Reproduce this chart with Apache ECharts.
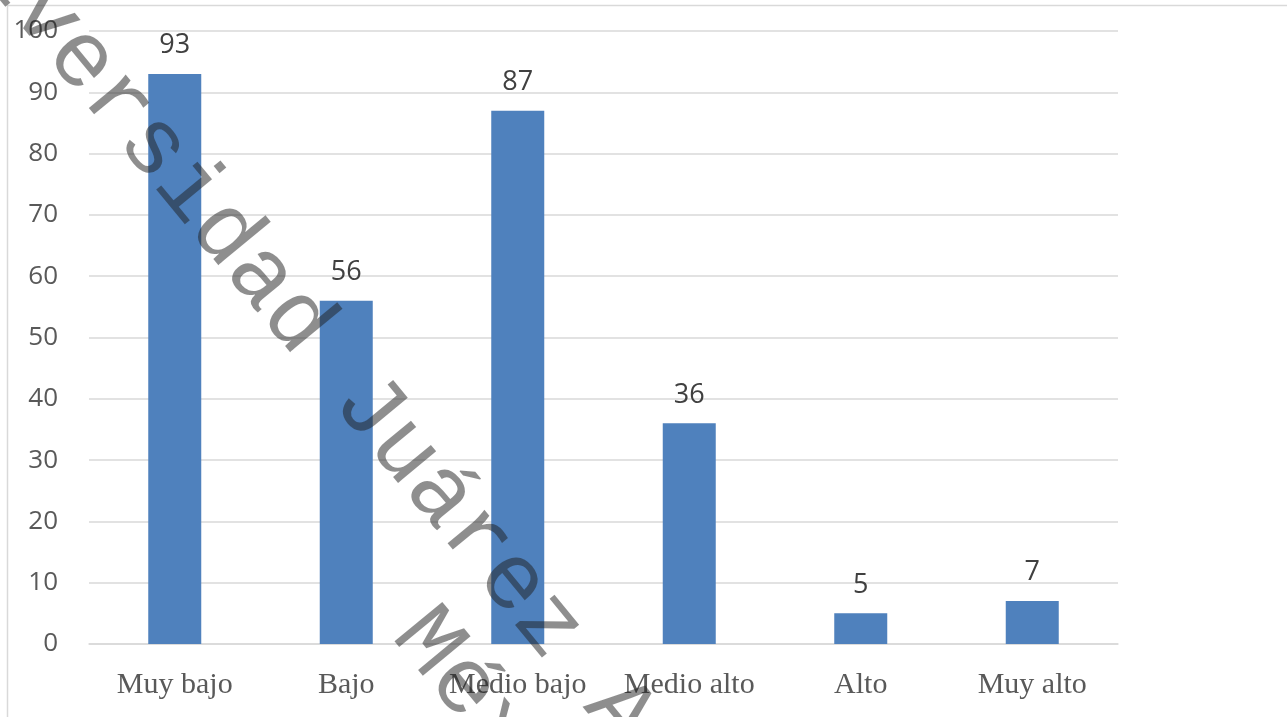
<!DOCTYPE html>
<html>
<head>
<meta charset="utf-8">
<script src="https://cdn.jsdelivr.net/npm/echarts@6/dist/echarts.min.js"></script>
<style>
  html, body { margin: 0; padding: 0; background: #fff; }
  #chart { width: 1287px; height: 717px; }
</style>
</head>
<body>
<div id="chart"></div>
<script>
// datos
var categorias = ['Muy bajo', 'Bajo', 'Medio bajo', 'Medio alto', 'Alto', 'Muy alto']
var valores = [93, 56, 87, 36, 5, 7]
var marcaAgua = ['Universidad Juárez Autónoma de Tabasco', 'México']

var chart = echarts.init(document.getElementById('chart'))
var giro = -50.5 * Math.PI / 180

chart.setOption({
  animation: false,
  grid: {
    left: 89,
    right: 169,
    top: 31,
    bottom: 73
  },
  xAxis: {
    type: 'category',
    data: categorias,
    axisLine: { show: true, lineStyle: { color: '#d9d9d9', width: 1.5 } },
    axisTick: { show: false },
    axisLabel: {
      interval: 0,
      hideOverlap: false,
      margin: 26,
      fontFamily: 'Liberation Serif',
      fontSize: 30,
      color: '#595959'
    }
  },
  yAxis: {
    type: 'value',
    min: 0,
    max: 100,
    interval: 10,
    axisLine: { show: false },
    axisTick: { show: false },
    axisLabel: {
      margin: 31,
      fontFamily: 'Open Sans',
      fontSize: 26,
      color: '#595959'
    },
    splitLine: { lineStyle: { color: '#d9d9d9', width: 1.5 } }
  },
  series: [{
    type: 'bar',
    data: valores,
    barWidth: 53,
    itemStyle: { color: '#4f81bd' },
    label: {
      show: true,
      position: 'top',
      distance: 15,
      fontFamily: 'Open Sans',
      fontSize: 27,
      color: '#404040'
    }
  }],
  graphic: [
    {
      type: 'rect',
      silent: true,
      shape: { x: 7.5, y: 5.5, width: 1300, height: 720 },
      style: { fill: 'none', stroke: '#d9d9d9', lineWidth: 1.5 }
    },
    {
      type: 'text',
      silent: true,
      z: 100,
      x: -80,
      y: -136,
      rotation: giro,
      style: {
        text: marcaAgua[0],
        font: '94px "Liberation Mono"',
        fill: 'rgba(30,30,30,0.5)',
        align: 'left',
        verticalAlign: 'middle'
      }
    },
    {
      type: 'text',
      silent: true,
      z: 100,
      x: 410,
      y: 621,
      rotation: giro,
      style: {
        text: marcaAgua[1],
        font: '94px "Liberation Mono"',
        fill: 'rgba(30,30,30,0.5)',
        align: 'left',
        verticalAlign: 'middle'
      }
    }
  ]
})
</script>
</body>
</html>
